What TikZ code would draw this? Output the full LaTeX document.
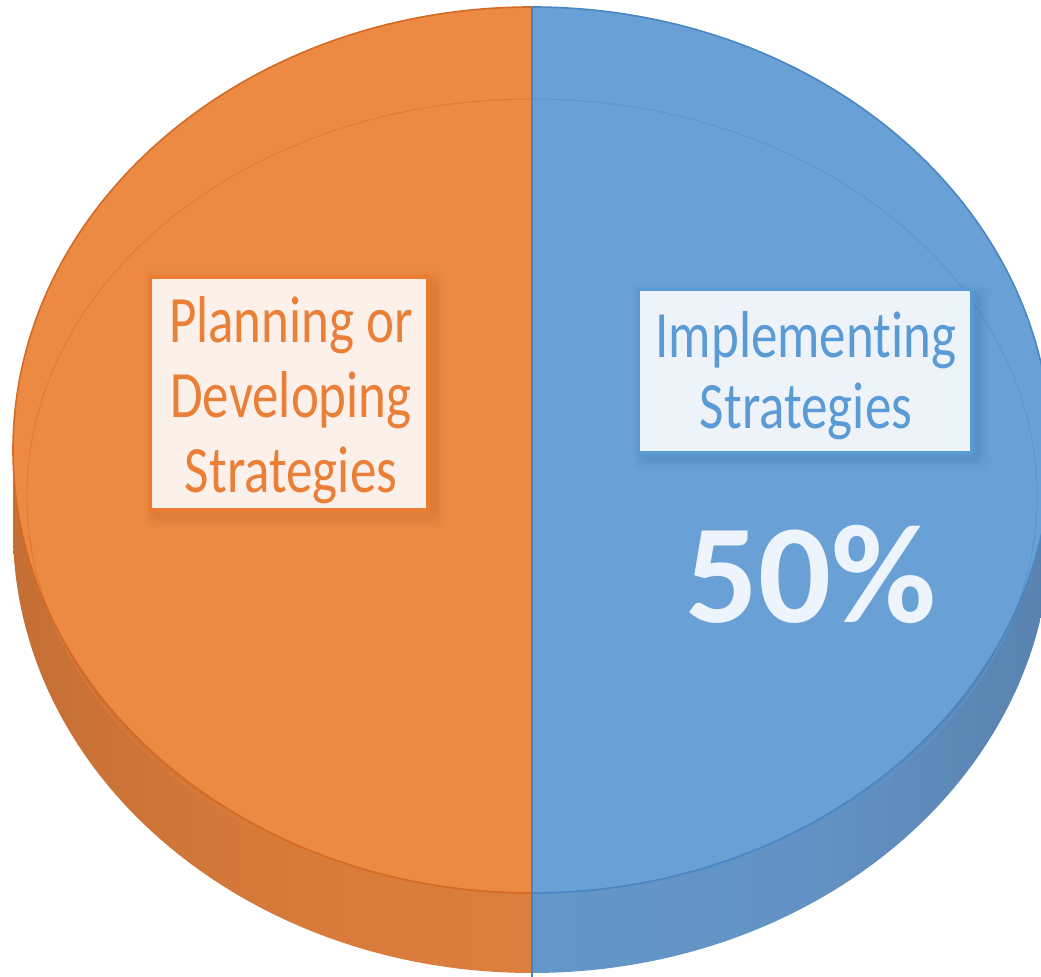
\documentclass[tikz,border=0pt]{standalone}
\usepackage{fontspec}
\setmainfont{Carlito}[Ligatures=NoCommon]
\definecolor{oface}{HTML}{EC8A44}
\definecolor{bface}{HTML}{69A1D6}
\definecolor{osA}{HTML}{4A2A14}
\definecolor{osB}{HTML}{8E4E22}
\definecolor{osC}{HTML}{BE6A31}
\definecolor{osD}{HTML}{D67A3B}
\definecolor{osE}{HTML}{E2833F}
\definecolor{bsA}{HTML}{6699CB}
\definecolor{bsB}{HTML}{6393C5}
\definecolor{bsC}{HTML}{577FAA}
\definecolor{bsD}{HTML}{3E5F80}
\definecolor{bsE}{HTML}{253D55}
\definecolor{oedge}{HTML}{D46A24}
\definecolor{bedge}{HTML}{4A86C2}
\definecolor{oring}{HTML}{E07B36}
\definecolor{bring}{HTML}{5C96CE}
\definecolor{divline}{HTML}{4A83C0}
\definecolor{otext}{HTML}{EA7F37}
\definecolor{btext}{HTML}{5B9BD5}
\definecolor{obox}{HTML}{EB7D33}
\definecolor{bbox}{HTML}{5B9BD5}
\definecolor{ofill}{HTML}{FBF0EA}
\definecolor{bfill}{HTML}{EEF3FA}
\definecolor{oshadow}{HTML}{B85A1C}
\definecolor{bshadow}{HTML}{2F6399}
\definecolor{pct}{HTML}{EEF4FB}
\pgfdeclarehorizontalshading{oside}{100bp}{color(0bp)=(osA); color(3bp)=(osB); color(15bp)=(osC); color(50bp)=(osD); color(100bp)=(osE)}
\pgfdeclarehorizontalshading{bside}{100bp}{color(0bp)=(bsA); color(50bp)=(bsB); color(80bp)=(bsC); color(96bp)=(bsD); color(100bp)=(bsE)}
\tikzset{
  labelbox/.style={rectangle, inner sep=0pt},
  labeltext/.style={align=center, inner sep=0pt, yscale=1.25, transform shape},
}
\begin{document}
\begin{tikzpicture}[x=0.5pt,y=0.5pt]
\useasboundingbox (0,0) rectangle (1041,977);
\clip (0,0) rectangle (1041,977);
% side of the pie
\begin{scope}
  \clip (532,447) ellipse [x radius=519, y radius=443];
  \shade[shading=oside] (13,0) rectangle (532,977);
  \shade[shading=bside] (532,0) rectangle (1051,977);
\end{scope}
\shade[shading=oside] (13,447) rectangle (532,527);
\shade[shading=bside] (532,447) rectangle (1051,527);
% top face
\begin{scope}
  \clip (0,0) rectangle (532,977);
  \fill[oface] (532,527) ellipse [x radius=519, y radius=443];
  \draw[oring, line width=0.5pt] (532,481) ellipse [x radius=505, y radius=397];
  \draw[oedge, line width=0.8pt] (532,527) ellipse [x radius=519, y radius=443];
\end{scope}
\begin{scope}
  \clip (532,0) rectangle (1041,977);
  \fill[bface] (532,527) ellipse [x radius=519, y radius=443];
  \draw[bring, line width=0.5pt] (532,481) ellipse [x radius=505, y radius=397];
  \draw[bedge, line width=0.8pt] (532,527) ellipse [x radius=519, y radius=443];
\end{scope}
% divider
\coordinate (dtop) at (532,970);
\coordinate (dbot) at (532,0);
\draw[divline, line width=1pt] (dtop) -- (dbot);
% shadows of label boxes
\foreach \s/\o in {10/0.04,7/0.05,4/0.07,2/0.08}{
  \fill[oshadow, opacity=\o, rounded corners=4pt] (148+6-\s,977-512-6-\s) rectangle (430+6+\s,977-275-6+\s);
  \fill[bshadow, opacity=\o, rounded corners=4pt] (637+6-\s,977-454-6-\s) rectangle (973+6+\s,977-288-6+\s);
}
% label boxes
\node[labelbox, draw=obox, fill=ofill, line width=2pt, minimum width=139pt, minimum height=116.5pt] (pbox) at (289,583.5) {};
\node[labelbox, draw=bbox, fill=bfill, line width=1.5pt, minimum width=166.5pt, minimum height=81.5pt] (ibox) at (805,606) {};
\node[labeltext, text=otext, font=\fontsize{26.5}{30}\selectfont] (ptext) at (291,577) {Planning or\\Developing\\Strategies};
\node[labeltext, text=btext, font=\fontsize{26.5}{28.5}\selectfont] (itext) at (806,601) {Implementing\\Strategies};
\node[inner sep=0pt, text=pct, font=\fontsize{72}{72}\selectfont\bfseries, yscale=0.98, transform shape] (pct) at (811,403) {50\%};
\end{tikzpicture}
\end{document}
